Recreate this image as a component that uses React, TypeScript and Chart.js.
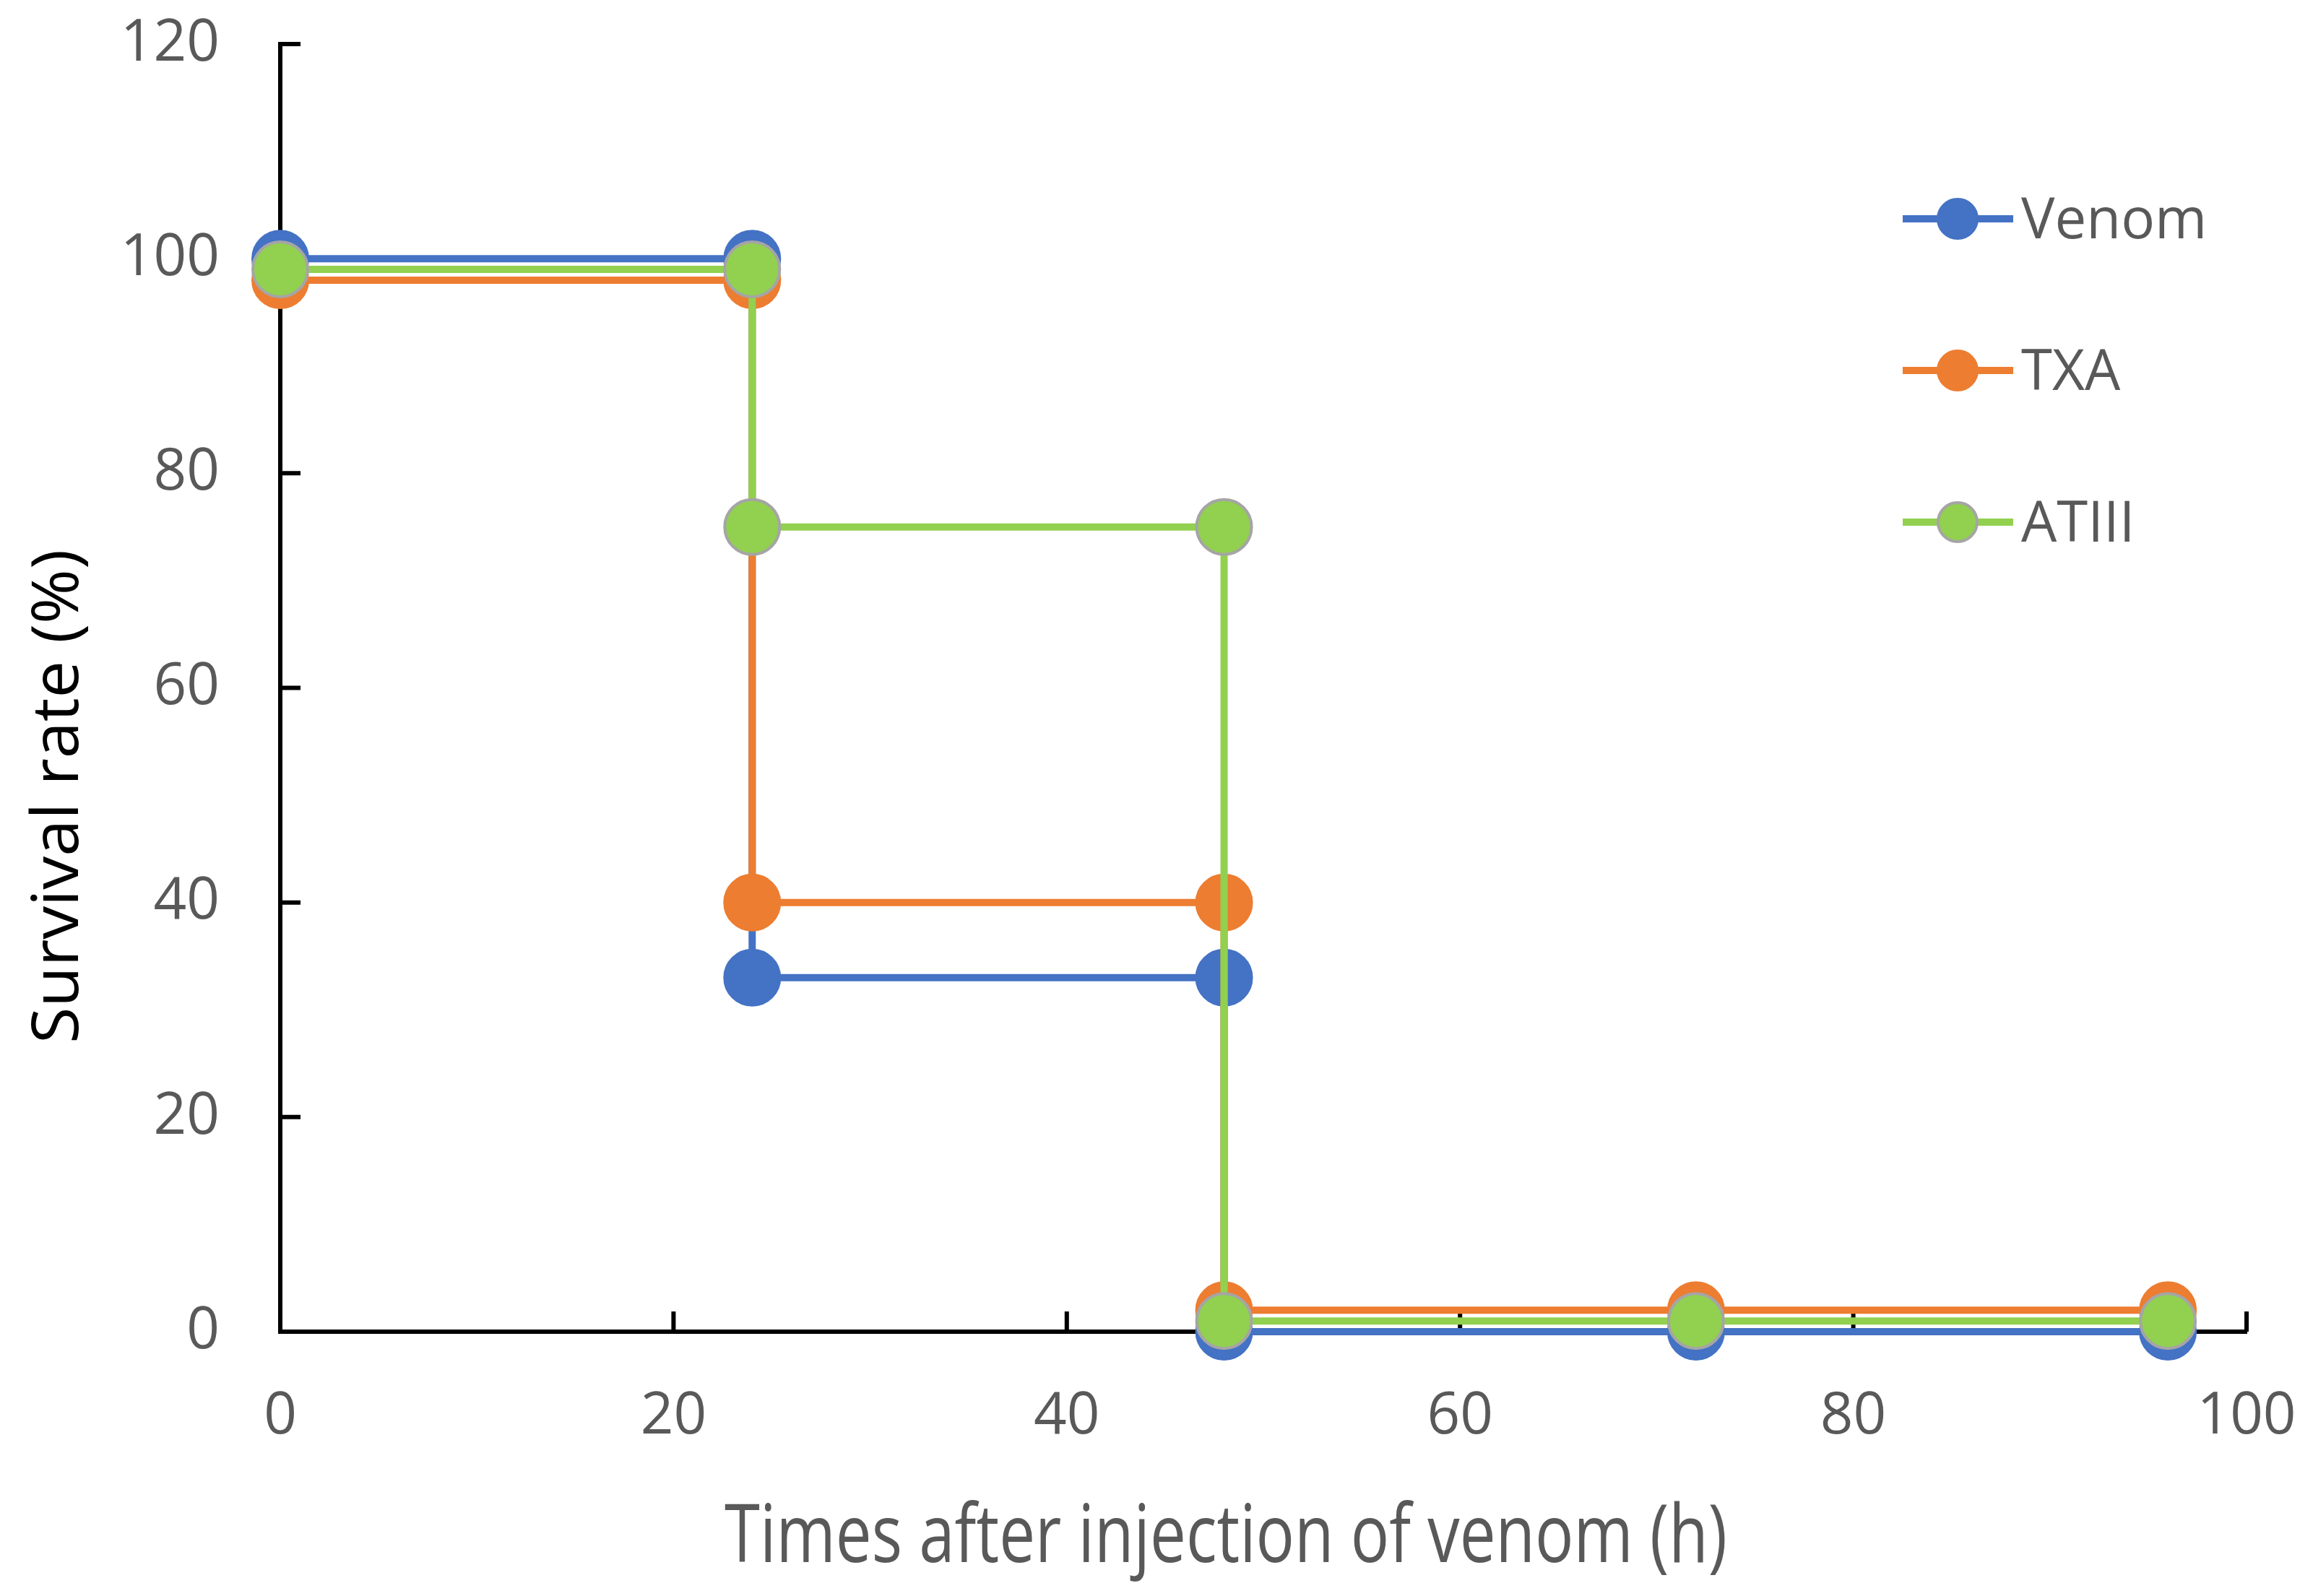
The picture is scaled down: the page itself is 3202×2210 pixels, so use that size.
import React, { useEffect, useRef } from 'react';
import { Chart, registerables } from 'chart.js';

Chart.register(...registerables);

// Kaplan-Meier style step data (each drop repeats the time point)
const hours = [0, 24, 24, 48, 48, 72, 96];
const venomSurvival = [100, 100, 33, 33, 0, 0, 0];
const txaSurvival = [98, 98, 40, 40, 2, 2, 2];
const atiiiSurvival = [99, 99, 75, 75, 1, 1, 1];
const seriesNames = ['Venom', 'TXA', 'ATIII'];
const xTitle = 'Times after injection of venom (h)';
const yTitle = 'Survival rate (%)';

const FONT = '"Open Sans", "Noto Sans", sans-serif';
const GREY_TEXT = '#595959';

const toPoints = (ys: number[]) => hours.map((x, i) => ({ x, y: ys[i] }));

// Excel-style ticks pointing into the plot area
const insideTicks = {
  id: 'insideTicks',
  beforeDatasetsDraw(chart: any) {
    const { ctx, chartArea, scales } = chart;
    ctx.save();
    ctx.strokeStyle = '#000';
    ctx.lineWidth = 6;
    ctx.beginPath();
    scales.x.ticks.forEach((t: any) => {
      if (t.value === 0) return;
      const px = scales.x.getPixelForValue(t.value);
      ctx.moveTo(px, chartArea.bottom);
      ctx.lineTo(px, chartArea.bottom - 28);
    });
    scales.y.ticks.forEach((t: any) => {
      if (t.value === 0) return;
      const py = scales.y.getPixelForValue(t.value);
      ctx.moveTo(chartArea.left, py);
      ctx.lineTo(chartArea.left + 28, py);
    });
    ctx.stroke();
    ctx.restore();
  },
};

// draws text squeezed/stretched to a given width
const fillFitted = (ctx: CanvasRenderingContext2D, text: string, width: number) => {
  const w = ctx.measureText(text).width;
  ctx.scale(width / w, 1);
  ctx.fillText(text, 0, 0);
};

const axisTitles = {
  id: 'axisTitles',
  afterDraw(chart: any) {
    const { ctx } = chart;
    ctx.save();
    ctx.translate(108, 1103);
    ctx.rotate(-Math.PI / 2);
    ctx.font = `90px ${FONT}`;
    ctx.fillStyle = '#000';
    ctx.textAlign = 'center';
    ctx.textBaseline = 'alphabetic';
    fillFitted(ctx, yTitle, 684);
    ctx.restore();

    ctx.save();
    ctx.translate(1697, 2163);
    ctx.font = `111px ${FONT}`;
    ctx.fillStyle = GREY_TEXT;
    ctx.textAlign = 'center';
    ctx.textBaseline = 'alphabetic';
    fillFitted(ctx, xTitle, 1388);
    ctx.restore();
  },
};

// legend sits inside the plot, top right
const insideLegend = {
  id: 'insideLegend',
  afterDraw(chart: any) {
    const { ctx } = chart;
    chart.data.datasets.forEach((ds: any, i: number) => {
      const y = 303 + i * 210;
      ctx.save();
      ctx.strokeStyle = ds.borderColor;
      ctx.lineWidth = 10;
      ctx.beginPath();
      ctx.moveTo(2634, y);
      ctx.lineTo(2787, y);
      ctx.stroke();
      ctx.beginPath();
      ctx.arc(2710, y, 27, 0, Math.PI * 2);
      ctx.fillStyle = ds.pointBackgroundColor;
      ctx.fill();
      ctx.lineWidth = 4;
      ctx.strokeStyle = ds.pointBorderColor;
      ctx.stroke();
      ctx.font = `78px ${FONT}`;
      ctx.fillStyle = GREY_TEXT;
      ctx.textAlign = 'left';
      ctx.textBaseline = 'alphabetic';
      ctx.fillText(ds.label, 2798, y + 27);
      ctx.restore();
    });
  },
};

const makeSeries = (label: string, ys: number[], line: string, border: string, order: number) => ({
  label,
  data: toPoints(ys),
  borderColor: line,
  backgroundColor: line,
  borderWidth: 10,
  pointRadius: 38,
  pointBackgroundColor: line,
  pointBorderColor: border,
  pointBorderWidth: 4,
  tension: 0,
  clip: false as const,
  order,
});

// fixed axis sizes, and no automatic room for overflowing tick labels
const fixSize = (prop: 'width' | 'height', size: number) => (s: any) => {
  s[prop] = size;
  s.paddingTop = 0;
  s.paddingBottom = 0;
  s.paddingLeft = 0;
  s.paddingRight = 0;
};

export default function App() {
  const canvasRef = useRef<HTMLCanvasElement>(null);
  const chartRef = useRef<Chart | null>(null);

  useEffect(() => {
    if (!canvasRef.current) return;
    chartRef.current?.destroy();

    const tickFont = { family: FONT, size: 80 };

    chartRef.current = new Chart(canvasRef.current, {
      type: 'line',
      data: {
        datasets: [
          makeSeries(seriesNames[0], venomSurvival, '#4472C4', '#4472C4', 2),
          makeSeries(seriesNames[1], txaSurvival, '#ED7D31', '#ED7D31', 1),
          makeSeries(seriesNames[2], atiiiSurvival, '#92D050', '#A5A5A5', 0),
        ],
      },
      options: {
        animation: false,
        responsive: true,
        maintainAspectRatio: false,
        layout: { padding: { top: 61, right: 92, bottom: 0, left: 0 } },
        plugins: {
          legend: { display: false },
          tooltip: { enabled: false },
        },
        scales: {
          x: {
            type: 'linear',
            min: 0,
            max: 100,
            ticks: { stepSize: 20, font: tickFont, color: GREY_TEXT, padding: 70, maxRotation: 0 },
            grid: { drawOnChartArea: false, drawTicks: false },
            border: { color: '#000', width: 6 },
            afterFit: fixSize('height', 366),
          },
          y: {
            type: 'linear',
            min: 0,
            max: 120,
            ticks: { stepSize: 20, font: tickFont, color: GREY_TEXT, padding: 84 },
            grid: { drawOnChartArea: false, drawTicks: false },
            border: { color: '#000', width: 6 },
            afterFit: fixSize('width', 388),
          },
        },
      },
      plugins: [insideTicks, axisTitles, insideLegend],
    });

    return () => {
      chartRef.current?.destroy();
      chartRef.current = null;
    };
  }, []);

  return (
    <div style={{ position: 'fixed', left: 0, top: 0, width: 3202, height: 2210, background: '#fff' }}>
      <canvas ref={canvasRef}></canvas>
    </div>
  );
}
